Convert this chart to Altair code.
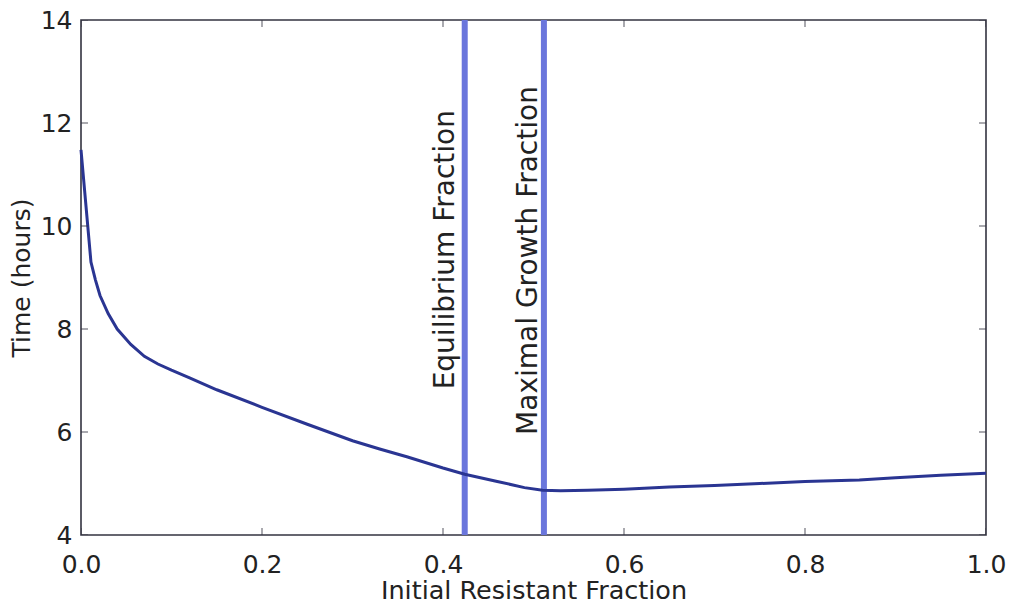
import altair as alt
import pandas as pd

# curve data
frac = [0.0, 0.011, 0.016, 0.021, 0.03, 0.04, 0.055, 0.07, 0.085, 0.1, 0.12, 0.15,
        0.2, 0.25, 0.3, 0.33, 0.36, 0.4, 0.424, 0.46, 0.49, 0.51, 0.53, 0.56, 0.6,
        0.65, 0.7, 0.75, 0.8, 0.86, 0.9, 0.95, 1.0]
time_h = [11.48, 9.3, 8.95, 8.65, 8.3, 8.0, 7.7, 7.47, 7.32, 7.2, 7.05, 6.82,
          6.48, 6.15, 5.83, 5.67, 5.52, 5.3, 5.18, 5.04, 4.92, 4.87, 4.86, 4.87, 4.89,
          4.93, 4.96, 5.0, 5.04, 5.07, 5.11, 5.16, 5.2]

# vertical markers
marker_names = ["Equilibrium Fraction", "Maximal Growth Fraction"]
marker_x = [0.424, 0.5115]
marker_label_y = [9.54, 9.33]

# ticks
x_ticks = [0.0, 0.2, 0.4, 0.6, 0.8, 1.0]
y_ticks = [4, 6, 8, 10, 12, 14]

curve = pd.DataFrame({"frac": frac, "time": time_h})
markers = pd.DataFrame({"name": marker_names, "x": marker_x, "ly": marker_label_y})
xt = pd.DataFrame({"v": x_ticks})
yt = pd.DataFrame({"v": y_ticks})

FONT = "DejaVu Sans"
xs = alt.Scale(domain=[0, 1], nice=False, zero=False)
ys = alt.Scale(domain=[4, 14], nice=False, zero=False)

x_axis = alt.Axis(values=x_ticks, format=".1f", ticks=False, grid=False, domain=False,
                  labelFontSize=25, labelPadding=17, labelFont=FONT, labelColor="#222222",
                  title="Initial Resistant Fraction", titleFontSize=25.5, titleFont=FONT,
                  titleFontWeight="normal", titleColor="#222222", titlePadding=1,
                  labelFlush=False)
y_axis = alt.Axis(values=y_ticks, format="d", ticks=False, grid=False, domain=False,
                  labelFontSize=25, labelPadding=9, labelFont=FONT, labelColor="#222222",
                  title="Time (hours)", titleFontSize=25, titleFont=FONT,
                  titleFontWeight="normal", titleColor="#222222", titlePadding=6,
                  labelFlush=False)

vlines = alt.Chart(markers).mark_rule(color="#6a76dc", strokeWidth=6).encode(
    x=alt.X("x:Q", scale=xs, axis=x_axis),
)

line = alt.Chart(curve).mark_line(color="#2a3592", strokeWidth=3).encode(
    x=alt.X("frac:Q", scale=xs, axis=x_axis),
    y=alt.Y("time:Q", scale=ys, axis=y_axis),
)

lab1 = alt.Chart(markers).transform_filter(alt.datum.name == marker_names[0]).mark_text(
    angle=270, align="center", baseline="alphabetic", dy=-11, fontSize=28, font=FONT,
    color="#222222"
).encode(x=alt.X("x:Q", scale=xs), y=alt.Y("ly:Q", scale=ys), text="name:N")

lab2 = alt.Chart(markers).transform_filter(alt.datum.name == marker_names[1]).mark_text(
    angle=270, align="center", baseline="alphabetic", dy=-7, fontSize=28, font=FONT,
    color="#222222"
).encode(x=alt.X("x:Q", scale=xs), y=alt.Y("ly:Q", scale=ys), text="name:N")

TICK_COLOR = "#333340"
xtick_bottom = alt.Chart(xt).mark_tick(orient="vertical", size=14, thickness=1.2,
                                       color=TICK_COLOR, clip=True).encode(
    x=alt.X("v:Q", scale=xs), y=alt.datum(4, scale=ys))
xtick_top = alt.Chart(xt).mark_tick(orient="vertical", size=14, thickness=1.2,
                                    color=TICK_COLOR, clip=True).encode(
    x=alt.X("v:Q", scale=xs), y=alt.datum(14, scale=ys))
ytick_left = alt.Chart(yt).mark_tick(orient="horizontal", size=14, thickness=1.2,
                                     color=TICK_COLOR, clip=True).encode(
    y=alt.Y("v:Q", scale=ys), x=alt.datum(0, scale=xs))
ytick_right = alt.Chart(yt).mark_tick(orient="horizontal", size=14, thickness=1.2,
                                      color=TICK_COLOR, clip=True).encode(
    y=alt.Y("v:Q", scale=ys), x=alt.datum(1, scale=xs))

chart = alt.layer(
    vlines, line, lab1, lab2, xtick_bottom, xtick_top, ytick_left, ytick_right
).properties(
    width=905, height=515,
    autosize=alt.AutoSizeParams(type="none"),
    padding={"left": 81, "top": 20, "right": 26, "bottom": 69},
    background="white",
).configure_view(
    stroke="#333340", strokeWidth=1.6
)

chart.save("out.html", embed_options={"renderer": "svg", "actions": False})
